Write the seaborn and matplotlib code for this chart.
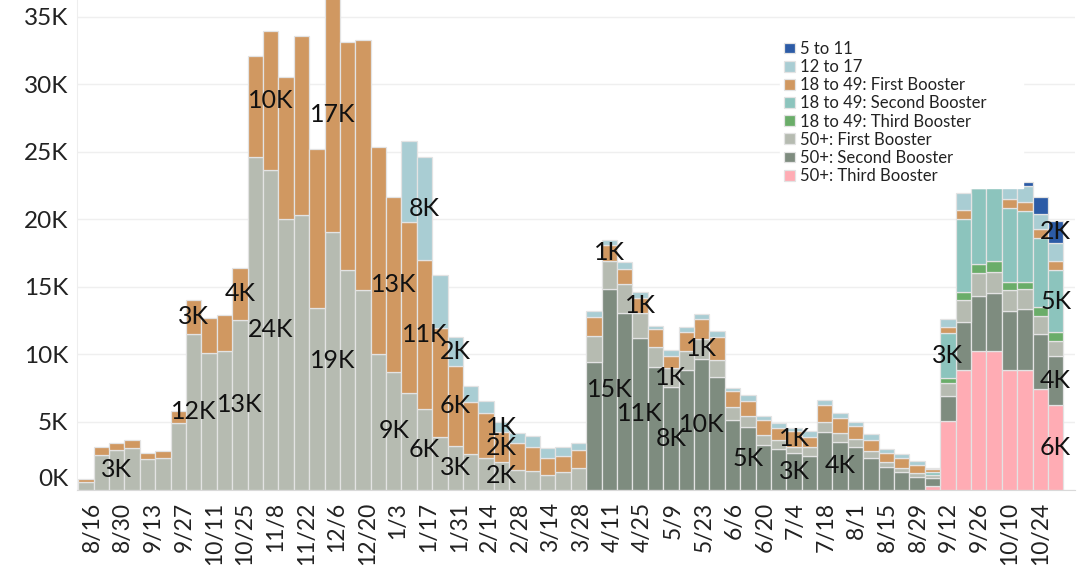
import pandas as pd
import matplotlib
matplotlib.use("Agg")
import matplotlib.pyplot as plt
import seaborn as sns

# weekly booster doses, one bar per week (8/9 ... 10/24), stacked by group
groups = ['5 to 11', '12 to 17', '18 to 49: First Booster', '18 to 49: Second Booster',
          '18 to 49: Third Booster', '50+: First Booster', '50+: Second Booster',
          '50+: Third Booster']
colors = ['#2c5ba6', '#a9cdd3', '#d09861', '#8cc4bd', '#6aad69', '#b6bbb1', '#7e8c7f', '#ffacb4']

b511 = [0] * 61 + [300, 1290, 1660]
y1217 = [0] * 21 + [6010, 7670, 3960, 2100, 1190, 920, 790, 740, 790,
                    670, 690, 550, 500, 370, 500, 420, 250, 400, 370,
                    370, 500, 250, 420, 300, 370, 250, 420, 370, 370,
                    310, 420, 300, 320, 320, 70, 620, 1210, 1200, 1200,
                    1400, 1240, 1120, 1310]
f1849 = [200, 570, 560, 620, 420, 500, 920, 2550, 2600, 2670,
         3840, 7480, 10270, 10520, 13240, 11760, 17400, 16880, 18510, 15320,
         12990, 12620, 11040, 8090, 5940, 3890, 3340, 2180, 2030, 1810,
         1310, 1210, 1310, 1410, 1190, 1120, 1120, 1290, 940, 1410,
         1490, 1660, 1170, 1140, 1120, 920, 1130, 740, 1240, 1070,
         950, 790, 620, 670, 570, 220, 400, 690, 700, 700,
         670, 670, 670, 670]
s1849 = [0] * 55 + [200, 3370, 5400, 5620, 6070, 5450, 5200, 5100, 4610]
t1849 = [0] * 56 + [370, 590, 670, 790, 620, 570, 670, 620]
f50 = [570, 2550, 2900, 3050, 2250, 2350, 4900, 11510, 10100, 10220,
       12570, 24650, 23660, 20000, 20320, 13440, 19080, 16240, 14800, 10050,
       8690, 7180, 5940, 3860, 3240, 2620, 2300, 2050, 1440, 1360,
       1060, 1260, 1610, 1880, 2110, 2110, 1860, 1490, 1380, 1360,
       1490, 1300, 940, 790, 740, 690, 500, 690, 740, 670,
       620, 570, 420, 320, 300, 200, 920, 1640, 1680, 1610,
       1560, 1490, 1290, 1120]
s50 = [0] * 33 + [9460, 14810, 13080, 11220, 9070, 7590, 8870,
                  9660, 8310, 5150, 4660, 3290, 2970, 2680, 2480, 4290, 3540,
                  3150, 2300, 1640, 1310, 940, 620, 1880, 3520, 4090, 4290,
                  4340, 4460, 4110, 3640]
t50 = [0] * 55 + [250, 5080, 8870, 10230, 10230, 8870, 8870, 7430, 6270]

tick_labels = ['8/16', '8/30', '9/13', '9/27', '10/11', '10/25', '11/8', '11/22', '12/6', '12/20',
               '1/3', '1/17', '1/31', '2/14', '2/28', '3/14', '3/28', '4/11', '4/25', '5/9',
               '5/23', '6/6', '6/20', '7/4', '7/18', '8/1', '8/15', '8/29', '9/12', '9/26',
               '10/10', '10/24']

# segments that carry a value label (week, group)
label_marks = [(2, '50+: First Booster'), (7, '50+: First Booster'), (7, '18 to 49: First Booster'),
               (10, '50+: First Booster'), (10, '18 to 49: First Booster'),
               (12, '50+: First Booster'), (12, '18 to 49: First Booster'),
               (16, '50+: First Booster'), (16, '18 to 49: First Booster'),
               (20, '50+: First Booster'), (20, '18 to 49: First Booster'),
               (22, '50+: First Booster'), (22, '18 to 49: First Booster'), (22, '12 to 17'),
               (24, '50+: First Booster'), (24, '18 to 49: First Booster'), (24, '12 to 17'),
               (27, '50+: First Booster'), (27, '18 to 49: First Booster'), (27, '12 to 17'),
               (34, '50+: Second Booster'), (34, '18 to 49: First Booster'),
               (36, '50+: Second Booster'), (36, '18 to 49: First Booster'),
               (38, '50+: Second Booster'), (38, '50+: First Booster'),
               (40, '50+: Second Booster'), (40, '50+: First Booster'),
               (43, '50+: Second Booster'), (46, '50+: Second Booster'), (46, '18 to 49: First Booster'),
               (49, '50+: Second Booster'), (56, '18 to 49: Second Booster'),
               (63, '50+: Third Booster'), (63, '50+: Second Booster'),
               (63, '18 to 49: Second Booster'), (63, '5 to 11')]

series = dict(zip(groups, [b511, y1217, f1849, s1849, t1849, f50, s50, t50]))
rows = []
for g, vals in series.items():
    for w, v in enumerate(vals):
        rows.append((w, g, v))
df = pd.DataFrame(rows, columns=['week', 'group', 'value'])

sns.set_style('white')
plt.rcParams['font.family'] = ['Lato', 'DejaVu Sans']

fig = plt.figure(figsize=(10.89, 5.72), dpi=100)
ax = fig.add_axes([0.071, 0.1442, 0.9162, 0.8558])
sns.histplot(data=df, x='week', weights='value', hue='group', hue_order=groups,
             palette=colors, multiple='stack', discrete=True, shrink=1, alpha=1,
             edgecolor='#e3e3e3', linewidth=0.9, ax=ax)
for p in ax.patches:
    if p.get_height() <= 0:
        p.set_visible(False)

stack_order = groups[::-1]
for w, g in label_marks:
    k = stack_order.index(g)
    base = sum(series[h][w] for h in stack_order[:k])
    v = series[g][w]
    ax.text(w, base + v / 2, f"{round(v / 1000)}K", ha='center', va='center',
            fontsize=18, color='#111111')

ax.set_xlim(-0.56, 64.26)
ax.set_ylim(0, 36240)
ax.set_xlabel('')
ax.set_ylabel('')
ax.set_yticks(range(0, 35001, 5000))
ax.set_yticklabels([f"{t}K" for t in range(0, 36, 5)], fontsize=17.5, color='#222222')
ax.get_yticklabels()[0].set_va('bottom')
ax.set_xticks([0.4 + 1.987 * k for k in range(len(tick_labels))])
ax.set_xticklabels(tick_labels, rotation=90, fontsize=16.5, color='#222222')
ax.tick_params(axis='y', length=0, pad=6.5)
ax.tick_params(axis='x', length=3, color='#d0d0d0', pad=6)
ax.set_axisbelow(True)
ax.yaxis.grid(True, color='#efefef', linewidth=1)
for s in ['top', 'right']:
    ax.spines[s].set_visible(False)
ax.spines['left'].set_color('#eeeeee')
ax.spines['bottom'].set_color('#d9d9d9')

sns.move_legend(ax, 'upper left', bbox_to_anchor=(0.7043, 0.925, 0.2435, 0), mode='expand',
                borderaxespad=0, title=None, frameon=True, framealpha=1, fancybox=False,
                fontsize=12, handlelength=0.62, handleheight=0.62, handletextpad=0.35,
                labelspacing=0.13, borderpad=0.25)
leg = ax.get_legend()
leg.get_frame().set_facecolor('white')
leg.get_frame().set_edgecolor('white')
for t in leg.get_texts():
    t.set_color('#222222')

fig.savefig('out.png', dpi=100)
